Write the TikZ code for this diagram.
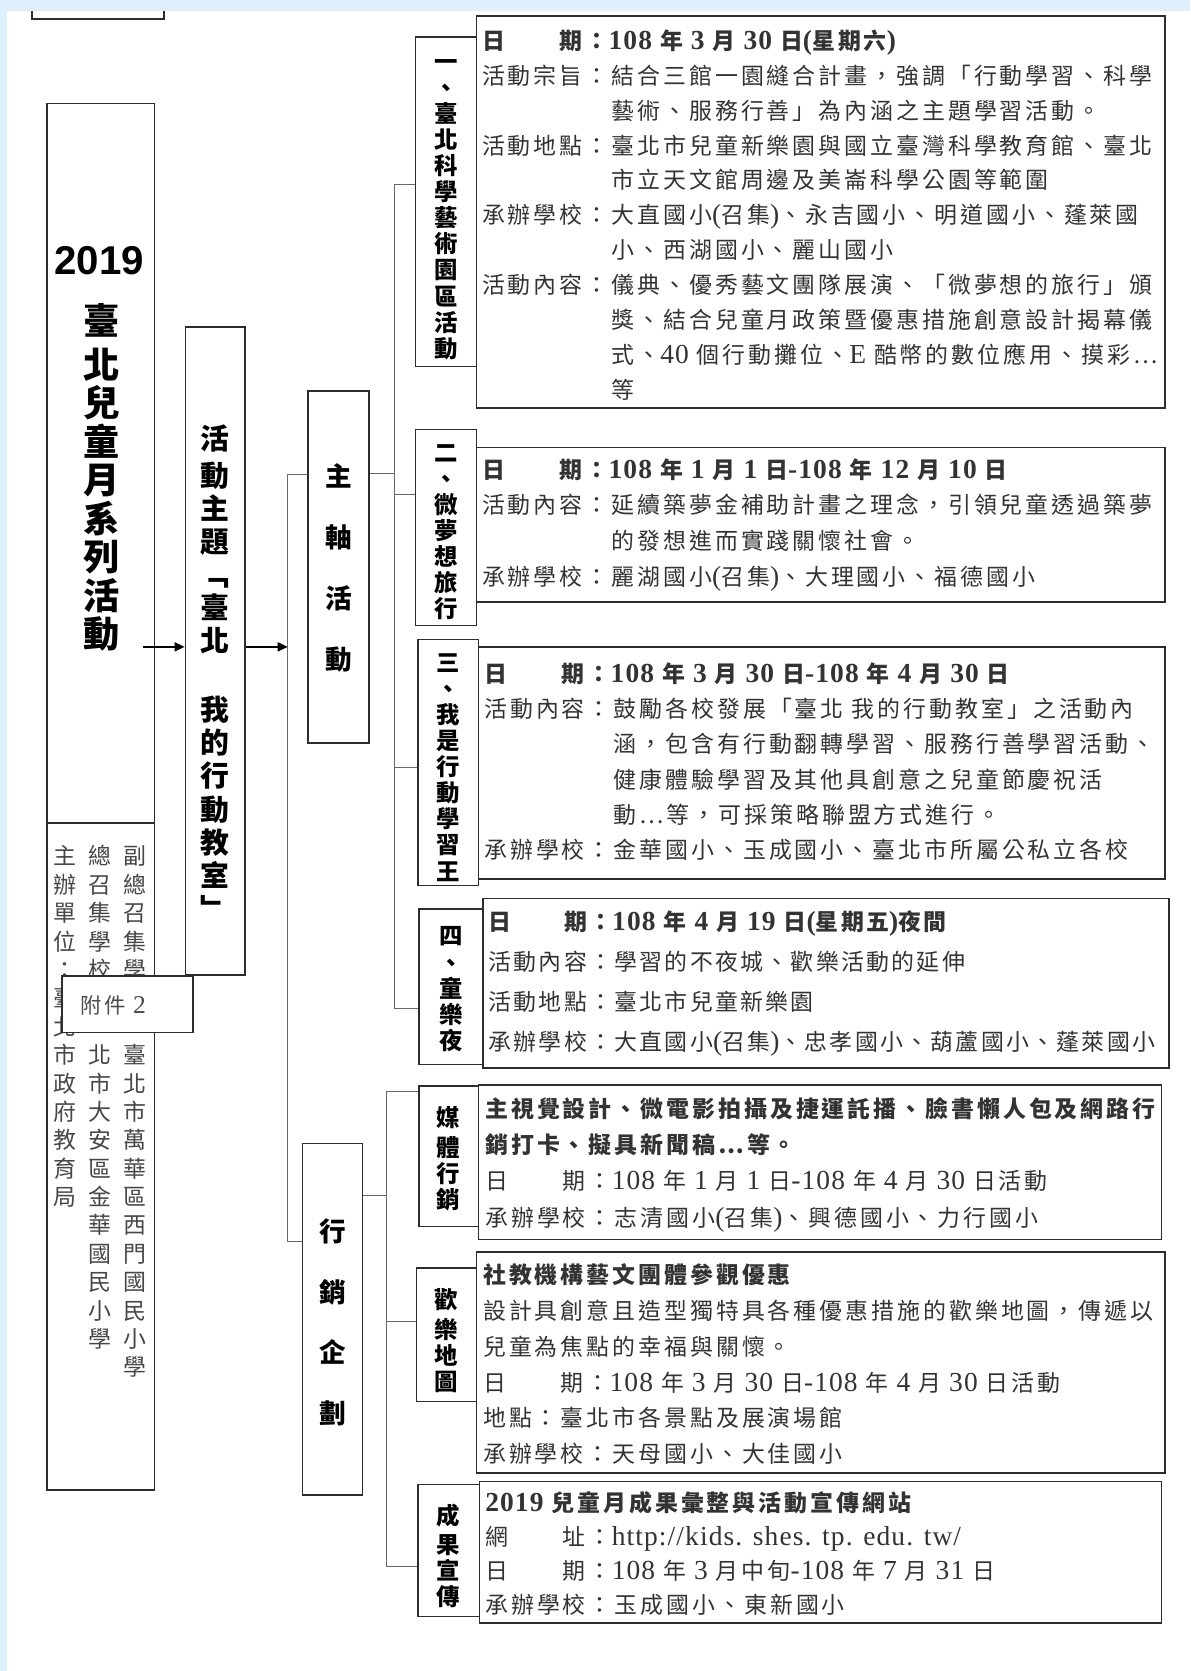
\documentclass[tikz,border=0pt]{standalone}
\usepackage{fontspec}
\setmainfont{Noto Sans CJK TC}[LetterSpace=13]
\newfontfamily\vfont{Noto Sans CJK TC}
\newfontfamily\latin{Liberation Serif}[Scale=1.2,LetterSpace=4]
\newfontfamily\headfont{Liberation Sans}
\usetikzlibrary{arrows.meta,fit}
\definecolor{band}{RGB}{221,240,252}
\definecolor{ink}{RGB}{45,45,45}
\definecolor{wire}{RGB}{105,105,105}
\newcommand{\dg}[1]{{\latin#1}}
\tikzset{
  box/.style={draw=ink,line width=0.8pt,inner sep=0pt},
  vlab/.style={anchor=north,align=center,inner sep=0pt,text=black,font=\vfont\bfseries\fontsize{11.7}{13.05}\selectfont},
  bigv/.style={anchor=north,align=center,inner sep=0pt,text=black,font=\vfont\bfseries\fontsize{13.3}{30.35}\selectfont},
  body/.style={anchor=north west,align=left,inner sep=0pt,text=black!80,font=\fontsize{11.45}{#1}\selectfont},
  vcol/.style={anchor=north,align=center,inner sep=0pt,text=black!72,font=\vfont\fontsize{11.45}{14.19}\selectfont},
  wire/.style={draw=wire,line width=0.6pt},
  feed/.style={-{Triangle[length=5pt,width=4.5pt]},line width=0.8pt}
}
\begin{document}
\begin{tikzpicture}[x=0.5325pt,y=-0.5325pt]
\useasboundingbox (0,0) rectangle (1117,1568);
\fill[band] (0,0) rectangle (1117,1568);
\fill[white] (7,10) rectangle (1117,1568);
\draw[box] (30,10) -- (30,18) -- (154,18) -- (154,10);

\node[box,fit={(44,97) (145,1398)}] (main) {};
\coordinate (divy) at (0,772);
\draw[box] (main.west |- divy) -- (main.east |- divy);
\node[font=\headfont\bfseries\fontsize{20.1}{20.1}\selectfont] (year) at (93,245) {2019};
\node[anchor=north,align=center,inner sep=0pt,font=\vfont\bfseries\fontsize{18.1}{19.2}\selectfont] (title) at (95,284.5)
  {\strut 臺\\北\\兒\\童\\月\\系\\列\\活\\動};
\node[vcol] (col1a) at (127,792.5) {\strut 副\\總\\召\\集\\學};
\node[vcol] (col1b) at (127,979) {\strut 臺\\北\\市\\萬\\華\\區\\西\\門\\國\\民\\小\\學};
\node[vcol] (col2a) at (94,792.5) {\strut 總\\召\\集\\學\\校};
\node[vcol] (col2b) at (94,979) {\strut 北\\市\\大\\安\\區\\金\\華\\國\\民\\小\\學};
\node[vcol] (col3) at (61,792.5) {\strut 主\\辦\\單\\位\\：\\臺\\北\\市\\政\\府\\教\\育\\局};
\node[box,fill=white,fit={(58,916) (181,969)}] (annex) {};
\node[anchor=west,inner sep=0pt,text=black!70,font=\fontsize{10.65}{10.65}\selectfont] (annexlbl) at (75,943) {附件\dg{ 2}};

\node[box,fit={(174,307) (230,915)}] (theme) {};
\node[anchor=north,align=center,inner sep=0pt,font=\vfont\bfseries\fontsize{14.4}{16.5}\selectfont] (themetxt) at (202,398.6)
  {\strut 活\\動\\主\\題\\﹁\\臺\\北\\\strut\\我\\的\\行\\動\\教\\室\\﹂};

\node[box,fit={(289,367) (346,697)}] (axis) {};
\node[bigv] (axistxt) at (317.5,416.6) {\strut 主\\軸\\活\\動};
\node[box,fit={(284,1073) (340,1403)}] (mkt) {};
\node[bigv] (mkttxt) at (312,1124.6) {\strut 行\\銷\\企\\劃};

\node[box,fit={(390,35) (447,344)}] (one) {};
\node[vlab] (onetxt) at (418.5,48.2) {\strut 一\\、\\臺\\北\\科\\學\\藝\\術\\園\\區\\活\\動};
\node[box,fit={(390,403) (447,587)}] (two) {};
\node[vlab] (twotxt) at (418.5,415.2) {\strut 二\\、\\微\\夢\\想\\旅\\行};
\node[box,fit={(392,600) (449,831)}] (three) {};
\node[vlab] (threetxt) at (420.5,612.2) {\strut 三\\、\\我\\是\\行\\動\\學\\習\\王};
\node[box,fit={(393,853) (453,999)}] (four) {};
\node[vlab] (fourtxt) at (423,869.2) {\strut 四\\、\\童\\樂\\夜};
\node[box,fit={(393,1019) (449,1151)}] (media) {};
\node[vlab] (mediatxt) at (421,1038.2) {\strut 媒\\體\\行\\銷};
\node[box,fit={(391,1190) (447,1315)}] (map) {};
\node[vlab] (maptxt) at (419,1208.2) {\strut 歡\\樂\\地\\圖};
\node[box,fit={(392,1393) (450,1517)}] (promo) {};
\node[vlab] (promotxt) at (421,1411.2) {\strut 成\\果\\宣\\傳};

\node[box,fit={(447,15) (1093,383)}] (t1) {};
\node[body=17.41] (t1txt) at (452,23.3) {\strut\textbf{日　　期：\dg{108 }年\dg{ 3 }月\dg{ 30 }日\dg{(}星期六\dg{)}}\\
活動宗旨：結合三館一園縫合計畫，強調「行動學習、科學\\
　　　　　藝術、服務行善」為內涵之主題學習活動。\\
活動地點：臺北市兒童新樂園與國立臺灣科學教育館、臺北\\
　　　　　市立天文館周邊及美崙科學公園等範圍\\
承辦學校：大直國小\dg{(}召集\dg{)}、永吉國小、明道國小、蓬萊國\\
　　　　　小、西湖國小、麗山國小\\
活動內容：儀典、優秀藝文團隊展演、「微夢想的旅行」頒\\
　　　　　獎、結合兒童月政策暨優惠措施創意設計揭幕儀\\
　　　　　式、\dg{40 }個行動攤位、\dg{E }酷幣的數位應用、摸彩…\\
　　　　　等};

\node[box,fit={(447,420) (1093,565)}] (t2) {};
\node[body=17.95] (t2txt) at (452,424.6) {\strut\textbf{日　　期：\dg{108 }年\dg{ 1 }月\dg{ 1 }日\dg{-108 }年\dg{ 12 }月\dg{ 10 }日}\\
活動內容：延續築夢金補助計畫之理念，引領兒童透過築夢\\
　　　　　的發想進而實踐關懷社會。\\
承辦學校：麗湖國小\dg{(}召集\dg{)}、大理國小、福德國小};

\node[box,fit={(449,607) (1093,825)}] (t3) {};
\node[body=17.57] (t3txt) at (454,617.1) {\strut\textbf{日　　期：\dg{108 }年\dg{ 3 }月\dg{ 30 }日\dg{-108 }年\dg{ 4 }月\dg{ 30 }日}\\
活動內容：鼓勵各校發展「臺北 我的行動教室」之活動內\\
　　　　　涵，包含有行動翻轉學習、服務行善學習活動、\\
　　　　　健康體驗學習及其他具創意之兒童節慶祝活\\
　　　　　動…等，可採策略聯盟方式進行。\\
承辦學校：金華國小、玉成國小、臺北市所屬公私立各校};

\node[box,fit={(453,843) (1097,1002)}] (t4) {};
\node[body=19.86,font=\fontsize{11.45}{19.86}\selectfont\addfontfeature{LetterSpace=10}] (t4txt) at (458,847.1)
{\strut\textbf{日　　期：\dg{108 }年\dg{ 4 }月\dg{ 19 }日\dg{(}星期五\dg{)}夜間}\\
活動內容：學習的不夜城、歡樂活動的延伸\\
活動地點：臺北市兒童新樂園\\
承辦學校：大直國小\dg{(}召集\dg{)}、忠孝國小、葫蘆國小、蓬萊國小};

\node[box,fit={(449,1018) (1090,1163)}] (t5) {};
\node[body=18.1] (t5txt) at (455,1024.4) {\strut\textbf{主視覺設計、微電影拍攝及捷運託播、臉書懶人包及網路行}\\
\textbf{銷打卡、擬具新聞稿…等。}\\
日　　期：\dg{108 }年\dg{ 1 }月\dg{ 1 }日\dg{-108 }年\dg{ 4 }月\dg{ 30 }日活動\\
承辦學校：志清國小\dg{(}召集\dg{)}、興德國小、力行國小};

\node[box,fit={(447,1175) (1093,1382)}] (t6) {};
\node[body=17.89] (t6txt) at (453,1180.7) {\strut\textbf{社教機構藝文團體參觀優惠}\\
設計具創意且造型獨特具各種優惠措施的歡樂地圖，傳遞以\\
兒童為焦點的幸福與關懷。\\
日　　期：\dg{108 }年\dg{ 3 }月\dg{ 30 }日\dg{-108 }年\dg{ 4 }月\dg{ 30 }日活動\\
地點：臺北市各景點及展演場館\\
承辦學校：天母國小、大佳國小};

\node[box,fit={(450,1390) (1090,1523)}] (t7) {};
\node[body=16.88] (t7txt) at (455,1396) {\strut\textbf{\dg{2019 }兒童月成果彙整與活動宣傳網站}\\
網　　址：\dg{http://kids. shes. tp. edu. tw/}\\
日　　期：\dg{108 }年\dg{ 3 }月中旬\dg{-108 }年\dg{ 7 }月\dg{ 31 }日\\
承辦學校：玉成國小、東新國小};

\coordinate (a1) at (134,607);
\coordinate (lt) at (270,445);
\coordinate (lb) at (270,1165);
\draw[feed] (a1) -- (a1 -| theme.west);
\draw[feed] (a1 -| theme.east) -- (a1 -| lt);
\draw[wire] (lt) -- (lb);
\draw[wire] (lt) -- (lt -| axis.west);
\draw[wire] (lb) -- (lb -| mkt.west);

\coordinate (ua) at (370,444);
\coordinate (u1) at (370,173);
\coordinate (u2) at (370,464);
\coordinate (u3) at (370,720);
\coordinate (u4) at (370,946);
\draw[wire] (ua -| axis.east) -- (ua);
\draw[wire] (u1) -- (u4);
\path[wire]
(u1) edge (u1 -| one.west)
(u2) edge (u2 -| two.west)
(u3) edge (u3 -| three.west)
(u4) edge (u4 -| four.west);

\coordinate (ma) at (363,1122);
\coordinate (m1) at (363,1024);
\coordinate (m2) at (363,1240);
\coordinate (m3) at (363,1470);
\draw[wire] (ma -| mkt.east) -- (ma);
\draw[wire] (m1) -- (m3);
\path[wire]
(m1) edge (m1 -| media.west)
(m2) edge (m2 -| map.west)
(m3) edge (m3 -| promo.west);
\end{tikzpicture}
\end{document}
